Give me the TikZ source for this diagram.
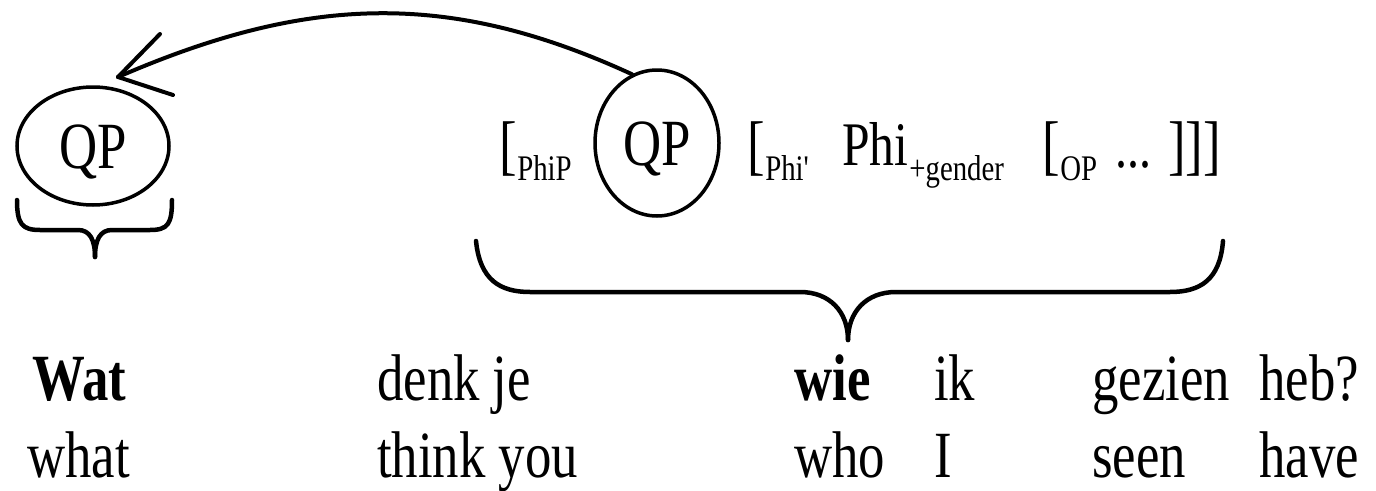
\documentclass[tikz,border=0pt]{standalone}
\usepackage{fontspec}
\setmainfont{Liberation Serif}[FakeStretch=0.8]
\usetikzlibrary{shapes.geometric}
\newcommand\subsz{\fontsize{36}{40}\selectfont}
\newcommand\lowsub[1]{\kern0.5pt\raisebox{-13pt}{\subsz #1}}
\tikzset{
  txt/.style={inner sep=0pt, anchor=base west, font=\fontsize{66}{70}\selectfont},
  circ/.style={draw, ellipse, line width=3.5pt, inner sep=0pt, text height=44pt, text depth=0pt,
    font=\fontsize{66}{70}\selectfont},
  brace/.style={line width=4.5pt, line cap=round},
  mv/.style={line width=4pt, line cap=round, line join=round}
}
\begin{document}
\begin{tikzpicture}[x=1pt,y=-1pt]
\useasboundingbox (0,0) rectangle (1376,490);
% circled QPs
\node[circ, minimum width=152pt, minimum height=118pt] (qpL) at (93,146) {QP};
\node[circ, minimum width=124pt, minimum height=146pt] (qpR) at (657,143) {QP};
% bracketed structure
\node[txt] (b1) at (499,167) {[\lowsub{PhiP}};
\node[txt] (b2) at (747,167) {[\lowsub{Phi\textquotesingle}};
\node[txt, font=\fontsize{62}{66}\selectfont] (phi) at (842,165) {Phi\kern1pt\raisebox{-15pt}{\subsz +gender}};
\node[txt] (b3) at (1042,167) {[\lowsub{OP}};
\node[txt, font=\fontsize{60}{64}\selectfont] (dots) at (1115,167) {...};
\node[txt] (b4) at (1168,167) {]]]};
% movement arrow
\coordinate (tip) at (118,77);
\draw[mv] (qpR.110) .. controls (447,-11) and (305,-4) .. (tip);
\draw[mv] (tip) -- ++(42,-43);
\draw[mv] (tip) -- ++(55,18);
% braces
\draw[brace] (17,200) .. controls (17,224) and (22,230) .. (40,230) -- (78,230)
  .. controls (90,230) and (95,240) .. (95,257);
\draw[brace] (95,257) .. controls (95,240) and (100,230) .. (112,230) -- (150,230)
  .. controls (168,230) and (172,224) .. (172,200);
\draw[brace] (476,241) .. controls (480,280) and (500,292) .. (530,292) -- (800,292)
  .. controls (830,292) and (848,312) .. (848,340);
\draw[brace] (848,340) .. controls (848,312) and (866,292) .. (896,292) -- (1170,292)
  .. controls (1200,292) and (1220,280) .. (1223,241);
% glosses
\node[txt, font=\fontsize{66}{70}\selectfont\bfseries] (w1) at (32,400) {Wat};
\node[txt] (w2) at (377,400) {denk je};
\node[txt, font=\fontsize{66}{70}\selectfont\bfseries] (w3) at (794,400) {wie};
\node[txt] (w4) at (934,400) {ik};
\node[txt] (w5) at (1092,400) {gezien};
\node[txt] (w6) at (1259,400) {heb?};
\node[txt] (g1) at (27,477) {what};
\node[txt] (g2) at (377,477) {think you};
\node[txt] (g3) at (794,477) {who};
\node[txt] (g4) at (934,477) {I};
\node[txt] (g5) at (1092,477) {seen};
\node[txt] (g6) at (1259,477) {have};
\end{tikzpicture}
\end{document}
